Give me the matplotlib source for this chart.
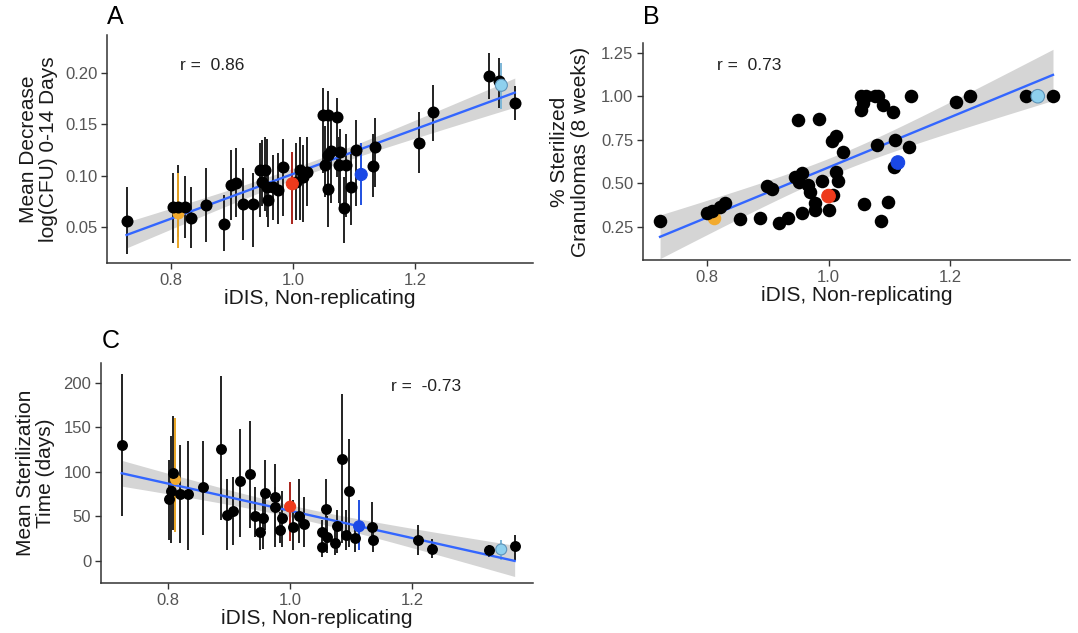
# import modules
# -------------
import matplotlib
matplotlib.use('Agg')
import matplotlib.pyplot as plt
import numpy as np

plt.rcParams['font.family'] = ['Liberation Sans', 'DejaVu Sans']

# panel A: mean decrease log(CFU) 0-14 days (point, upper, lower)
# ---------------------------------------------------------------
a_x = [0.727, 0.804, 0.812, 0.823, 0.833, 0.857, 0.887, 0.898, 0.907, 0.918,
       0.935, 0.946, 0.954, 0.950, 0.959, 0.957, 0.967, 0.975, 0.984, 1.005,
       1.011, 1.016, 1.023, 1.050, 1.057, 1.072, 1.052, 1.057, 1.063, 1.077,
       1.076, 1.087, 1.057, 1.083, 1.095, 1.103, 1.131, 1.134, 1.207, 1.229,
       1.321, 1.338, 1.364]
a_y = [0.056, 0.069, 0.069, 0.069, 0.059, 0.071, 0.053, 0.091, 0.093, 0.072,
       0.072, 0.105, 0.105, 0.094, 0.076, 0.089, 0.089, 0.086, 0.108, 0.094,
       0.105, 0.099, 0.103, 0.159, 0.159, 0.157, 0.110, 0.120, 0.124, 0.123,
       0.110, 0.110, 0.087, 0.068, 0.089, 0.125, 0.109, 0.128, 0.132, 0.162,
       0.197, 0.192, 0.171]
a_hi = [0.089, 0.102, 0.110, 0.100, 0.089, 0.107, 0.081, 0.125, 0.127, 0.107,
        0.102, 0.132, 0.138, 0.135, 0.109, 0.136, 0.120, 0.122, 0.136, 0.132,
        0.138, 0.130, 0.138, 0.185, 0.182, 0.176, 0.148, 0.151, 0.154, 0.145,
        0.138, 0.140, 0.125, 0.099, 0.122, 0.154, 0.140, 0.156, 0.162, 0.188,
        0.219, 0.215, 0.187]
a_lo = [0.023, 0.034, 0.040, 0.039, 0.029, 0.035, 0.026, 0.057, 0.060, 0.037,
        0.030, 0.060, 0.065, 0.070, 0.050, 0.060, 0.057, 0.053, 0.061, 0.057,
        0.057, 0.055, 0.070, 0.102, 0.099, 0.099, 0.079, 0.066, 0.073, 0.066,
        0.073, 0.060, 0.050, 0.034, 0.052, 0.070, 0.079, 0.089, 0.102, 0.134,
        0.175, 0.166, 0.154]

# highlighted compounds: orange, red, blue, light blue
hl_fill = ['#F2AA2E', '#EE3A1C', '#1A48E6', '#8ED0EE']
hl_edge = ['#F2AA2E', '#EE3A1C', '#1A48E6', '#5E93B8']
hl_bar = ['#E8A424', '#A8221A', '#1F4FE0', '#7DB6D6']

a_hl_x = [0.812, 0.999, 1.112, 1.342]
a_hl_y = [0.063, 0.092, 0.101, 0.188]
a_hl_hi = [0.102, 0.123, 0.132, 0.210]
a_hl_lo = [0.029, 0.053, 0.071, 0.165]

# panel B: % sterilized granulomas (8 weeks)
# ------------------------------------------
b_x = [0.723, 0.800, 0.808, 0.822, 0.830, 0.855, 0.887, 0.899, 0.907, 0.918,
       0.934, 0.949, 0.945, 0.952, 0.957, 0.966, 0.969, 0.957, 0.977, 0.977,
       0.984, 0.989, 1.007, 1.000, 1.006, 1.012, 1.013, 1.015, 1.024, 1.054,
       1.057, 1.062, 1.054, 1.076, 1.082, 1.090, 1.106, 1.079, 1.058, 1.086,
       1.097, 1.107, 1.109, 1.133, 1.135, 1.210, 1.233, 1.325, 1.369]
b_y = [0.283, 0.330, 0.340, 0.365, 0.388, 0.292, 0.300, 0.483, 0.464, 0.273,
       0.302, 0.862, 0.537, 0.508, 0.556, 0.489, 0.451, 0.330, 0.384, 0.346,
       0.871, 0.512, 0.430, 0.346, 0.741, 0.770, 0.566, 0.512, 0.680, 1.000,
       0.960, 1.000, 0.920, 1.000, 1.000, 0.948, 0.910, 0.718, 0.380, 0.283,
       0.393, 0.594, 0.751, 0.709, 1.000, 0.967, 1.000, 1.000, 1.000]

b_hl_x = [0.811, 1.000, 1.114, 1.344]
b_hl_y = [0.298, 0.426, 0.619, 1.000]

# panel C: mean sterilization time (days)
# ---------------------------------------
c_x = [0.724, 0.801, 0.804, 0.808, 0.820, 0.833, 0.857, 0.887, 0.896, 0.907,
       0.918, 0.935, 0.943, 0.951, 0.956, 0.959, 0.975, 0.975, 0.986, 0.983,
       1.005, 1.015, 1.022, 1.052, 1.052, 1.060, 1.059, 1.074, 1.077, 1.085,
       1.092, 1.097, 1.106, 1.134, 1.135, 1.210, 1.233, 1.326, 1.368]
c_y = [130.5, 69, 79, 99, 75, 75, 83, 126, 52, 56,
       90, 97, 51, 33, 48, 76, 72, 61, 48, 35,
       38, 51, 42, 33, 16, 27, 58, 20.5, 39, 114,
       29, 78, 26, 38, 23.5, 24, 14, 12, 17]
c_hi = [210, 113, 140, 163, 130, 135, 135, 207, 92, 94,
        148, 157, 83, 50, 79, 113, 109, 83, 79, 55,
        68, 92, 72, 46, 27, 50, 92, 35, 57, 187,
        57, 137, 42, 66, 35, 40, 25, 18, 29]
c_lo = [51, 23.5, 20, 35, 20, 12, 29, 46, 12, 18,
        27, 37, 27, 12, 14, 35, 27, 16, 16, 20,
        12, 20, 16, 12, 5, 9, 20, 7, 9, 20,
        12, 16, 10, 20, 10, 7, 3, 5, 1]

c_hl_x = [0.812, 1.000, 1.113, 1.346]
c_hl_y = [92, 61, 39, 13]
c_hl_hi = [160, 89, 68, 23.5]
c_hl_lo = [33, 22, 12, 1]


# linear fit with 95% confidence band
# -----------------------------------
def fit_band(x, y, t=2.01):
    x = np.asarray(x, float)
    y = np.asarray(y, float)
    b, a = np.polyfit(x, y, 1)
    xs = np.linspace(x.min(), x.max(), 100)
    ys = a + b * xs
    n = len(x)
    s = np.sqrt(np.sum((y - (a + b * x)) ** 2) / (n - 2))
    se = s * np.sqrt(1 / n + (xs - x.mean()) ** 2 / np.sum((x - x.mean()) ** 2))
    return xs, ys, ys - t * se, ys + t * se


def panel(ax, x, y, lo, hi, hx, hy, hlo, hhi, size):
    xs, ys, yl, yu = fit_band(list(x) + list(hx), list(y) + list(hy))
    ax.fill_between(xs, yl, yu, color='#D5D5D5', lw=0, zorder=1)
    if lo is not None:
        ax.vlines(x, lo, hi, color='#222222', lw=1.4, zorder=2)
        ax.vlines(hx, hlo, hhi, colors=hl_bar, lw=1.4, zorder=2)
    ax.plot(xs, ys, color='#3366FF', lw=1.7, zorder=3)
    # orange compound sits under the black points, the others on top
    ax.scatter(hx[:1], hy[:1], s=size, c=hl_fill[:1], lw=0, zorder=3.5)
    ax.scatter(x, y, s=size, color='black', lw=0, zorder=4)
    ax.scatter(hx[1:], hy[1:], s=size, c=hl_fill[1:], edgecolors=hl_edge[1:],
               lw=0.8, zorder=5)
    for side in ['top', 'right']:
        ax.spines[side].set_visible(False)
    for side in ['left', 'bottom']:
        ax.spines[side].set_color('#333333')
        ax.spines[side].set_linewidth(1.1)
    ax.tick_params(direction='out', length=4, width=1, color='#333333',
                   labelsize=12, labelcolor='#555555', pad=3)
    ax.set_xticks([0.8, 1.0, 1.2])
    ax.set_xticklabels(['0.8', '1.0', '1.2'])
    ax.set_xlabel('iDIS, Non-replicating', fontsize=15, color='#1a1a1a', labelpad=1)


fig = plt.figure(figsize=(10.78, 6.33), dpi=100)

# panel A
axA = fig.add_axes([0.0993, 0.5845, 0.3952, 0.3602])
panel(axA, a_x, a_y, a_lo, a_hi, a_hl_x, a_hl_y, a_hl_lo, a_hl_hi, 75)
axA.set_xlim(0.695, 1.394)
axA.set_ylim(0.0147, 0.237)
axA.set_yticks([0.05, 0.10, 0.15, 0.20])
axA.set_yticklabels(['0.05', '0.10', '0.15', '0.20'])
axA.set_ylabel('Mean Decrease\nlog(CFU) 0-14 Days', fontsize=15, color='#1a1a1a',
               linespacing=1.1, labelpad=5)
axA.text(0.868, 0.207, 'r =  0.86', ha='center', va='center', fontsize=12.5, color='#222222')

# panel B
axB = fig.add_axes([0.5965, 0.5893, 0.3961, 0.3428])
panel(axB, b_x, b_y, None, None, b_hl_x, b_hl_y, None, None, 95)
axB.set_xlim(0.695, 1.397)
axB.set_ylim(0.059, 1.306)
axB.set_yticks([0.25, 0.50, 0.75, 1.00, 1.25])
axB.set_yticklabels(['0.25', '0.50', '0.75', '1.00', '1.25'])
axB.set_ylabel('% Sterilized\nGranulomas (8 weeks)', fontsize=15, color='#1a1a1a',
               linespacing=1.1, labelpad=8)
axB.text(0.869, 1.177, 'r =  0.73', ha='center', va='center', fontsize=12.5, color='#222222')

# panel C
axC = fig.add_axes([0.0937, 0.079, 0.4007, 0.3476])
panel(axC, c_x, c_y, c_lo, c_hi, c_hl_x, c_hl_y, c_hl_lo, c_hl_hi, 62)
axC.set_xlim(0.69, 1.398)
axC.set_ylim(-24.6, 222)
axC.set_yticks([0, 50, 100, 150, 200])
axC.set_ylabel('Mean Sterilization\nTime (days)', fontsize=15, color='#1a1a1a',
               linespacing=1.1, labelpad=6)
axC.text(1.223, 196, 'r =  -0.73', ha='center', va='center', fontsize=12.5, color='#222222')

# panel letters
fig.text(107 / 1078, 1 - 17 / 633, 'A', fontsize=18, va='center', ha='left')
fig.text(643 / 1078, 1 - 17 / 633, 'B', fontsize=18, va='center', ha='left')
fig.text(102 / 1078, 1 - 341 / 633, 'C', fontsize=18, va='center', ha='left')

fig.savefig('out.png', dpi=100, facecolor='white')
